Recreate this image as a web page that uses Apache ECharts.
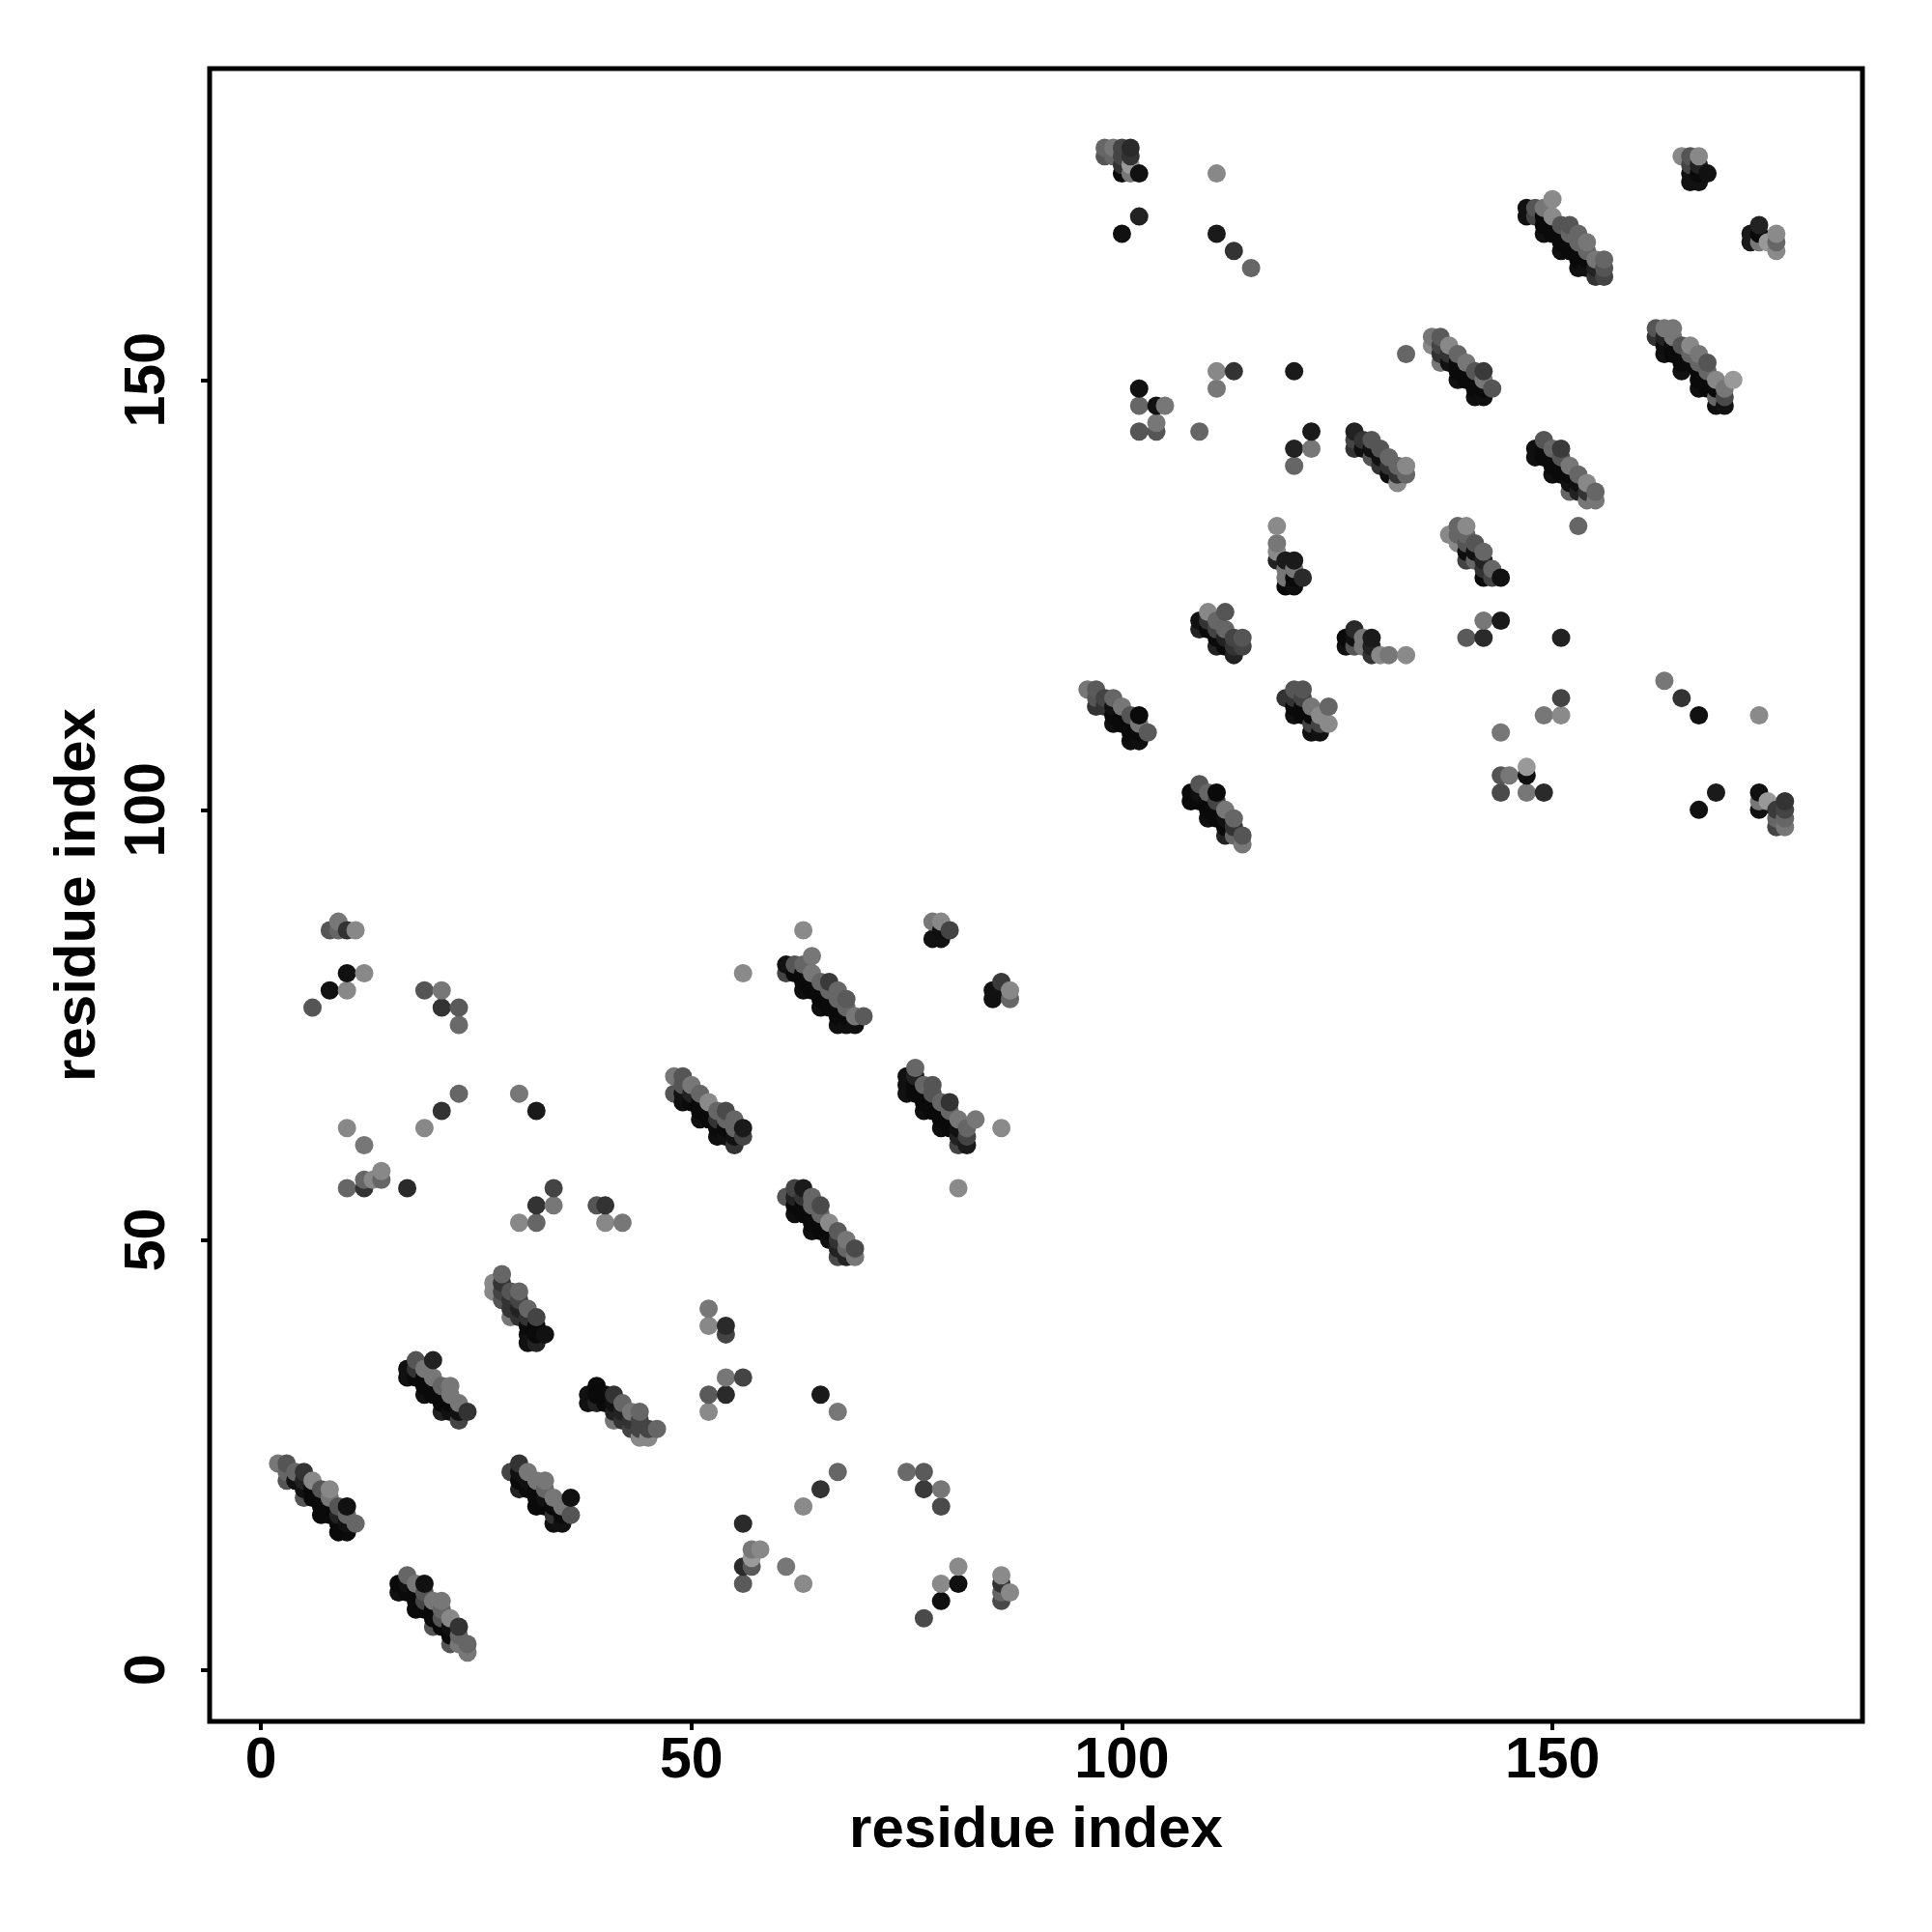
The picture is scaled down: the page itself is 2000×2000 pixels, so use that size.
<!DOCTYPE html>
<html><head><meta charset="utf-8">
<script src="https://cdn.jsdelivr.net/npm/echarts@6/dist/echarts.min.js"></script>
<style>html,body{margin:0;padding:0;background:#fff}#c{width:2000px;height:2000px}</style>
</head><body><div id="c"></div>
<script>
// each contact: [residue i, residue j, gray level]
const helixA=[[2,24,0x77],[3,22,0x55],[3,23,0x66],[3,24,0x55],[4,22,0x11],[4,23,0x66],[5,20,0x55],[5,21,0x11],[5,22,0x22],[5,23,0x33],[6,20,0x0a],[6,21,0x0a],[6,22,0x88],[7,18,0x0a],[7,19,0x0a],[7,20,0x0a],[7,21,0x55],[8,18,0x0a],[8,19,0x0a],[8,20,0x77],[8,21,0x88],[9,16,0x0a],[9,17,0x0a],[9,18,0x22],[9,19,0x55],[10,16,0x0a],[10,17,0x11],[10,18,0x66],[10,19,0x11],[11,17,0x66]];
const helixB=[[16,9,0x11],[16,10,0x0a],[17,9,0x0a],[17,10,0x11],[17,11,0x66],[18,7,0x0a],[18,8,0x0a],[18,9,0x0a],[18,10,0x77],[19,7,0x0a],[19,8,0x44],[19,9,0x55],[19,10,0x11],[20,5,0x55],[20,6,0x0a],[20,7,0x0a],[20,8,0x77],[21,5,0x0a],[21,6,0x55],[21,7,0x66],[21,8,0x77],[22,3,0x55],[22,4,0x0a],[22,5,0x11],[22,6,0x88],[23,3,0x77],[23,4,0x66],[23,5,0x33],[24,2,0x77],[24,3,0x66]];
const helixC=[[17,34,0x11],[17,35,0x11],[18,34,0x0a],[18,35,0x33],[18,36,0x55],[19,32,0x11],[19,33,0x0a],[19,34,0x0a],[19,35,0x77],[20,32,0x0a],[20,33,0x0a],[20,34,0x77],[20,36,0x22],[21,30,0x22],[21,31,0x0a],[21,32,0x0a],[21,33,0x66],[22,30,0x11],[22,31,0x0a],[22,32,0x77],[22,33,0x77],[23,29,0x44],[23,30,0x11],[23,31,0x77],[24,30,0x33]];
const helixD=[[29,23,0x44],[30,21,0x22],[30,22,0x0a],[30,23,0x11],[30,24,0x33],[31,21,0x0a],[31,22,0x11],[31,23,0x77],[32,19,0x0a],[32,20,0x0a],[32,21,0x0a],[32,22,0x77],[33,19,0x0a],[33,20,0x11],[33,21,0x66],[33,22,0x77],[34,17,0x11],[34,18,0x33],[34,19,0x0a],[34,20,0x77],[35,17,0x11],[35,18,0x0a],[35,19,0x77],[36,18,0x55],[36,20,0x11]];
const helixE=[[38,31,0x11],[38,32,0x11],[39,31,0x22],[39,32,0x0a],[39,33,0x0a],[40,31,0x0a],[40,32,0x0a],[41,29,0x77],[41,30,0x22],[41,31,0x11],[41,32,0x33],[42,29,0x33],[42,30,0x22],[42,31,0x66],[43,28,0x44],[43,29,0x33],[43,30,0x77],[44,27,0x88],[44,28,0x44],[44,29,0x44],[44,30,0x66],[45,27,0x88],[45,28,0x44],[46,28,0x66]];
const helixF=[[27,44,0x88],[27,45,0x88],[28,43,0x55],[28,44,0x44],[28,45,0x33],[28,46,0x66],[29,41,0x77],[29,42,0x33],[29,43,0x33],[29,44,0x55],[30,41,0x33],[30,42,0x22],[30,43,0x44],[30,44,0x66],[31,38,0x11],[31,39,0x11],[31,40,0x0a],[31,41,0x33],[31,42,0x66],[32,38,0x22],[32,39,0x0a],[32,40,0x0a],[32,41,0x44],[33,39,0x11]];
const helixG=[[48,67,0x55],[48,69,0x77],[49,66,0x0f],[49,67,0x11],[49,68,0x55],[49,69,0x55],[50,66,0x0a],[50,67,0x22],[50,68,0x77],[51,64,0x11],[51,65,0x0a],[51,66,0x0a],[51,67,0x66],[52,64,0x0a],[52,65,0x0a],[52,66,0x8a],[53,62,0x0f],[53,63,0x0a],[53,64,0x33],[53,65,0x66],[54,62,0x0f],[54,63,0x0a],[54,64,0x66],[54,65,0x4a],[55,61,0x33],[55,62,0x11],[55,63,0x66],[55,64,0x66],[56,62,0x44],[56,63,0x1a]];
const helixH=[[61,55,0x55],[62,53,0x0f],[62,54,0x0a],[62,55,0x22],[62,56,0x44],[63,53,0x0a],[63,54,0x0a],[63,55,0x33],[63,56,0x1a],[64,51,0x0f],[64,52,0x0a],[64,53,0x0a],[64,54,0x66],[64,55,0x66],[65,51,0x0a],[65,52,0x0a],[65,53,0x66],[65,54,0x4a],[66,50,0x0f],[66,51,0x0a],[66,52,0x8a],[67,48,0x4a],[67,49,0x22],[67,50,0x33],[67,51,0x5a],[68,48,0x22],[68,49,0x66],[68,50,0x77],[69,48,0x77],[69,49,0x4a]];
const helixI=[[75,67,0x11],[75,68,0x11],[75,69,0x11],[76,67,0x0a],[76,68,0x0a],[76,69,0x22],[76,70,0x66],[77,65,0x0f],[77,66,0x0a],[77,67,0x0a],[77,68,0x66],[78,65,0x0a],[78,66,0x0a],[78,67,0x55],[78,68,0x55],[79,63,0x0f],[79,64,0x0a],[79,65,0x0a],[79,66,0x66],[80,63,0x0a],[80,64,0x0a],[80,65,0x66],[80,66,0x33],[81,61,0x44],[81,62,0x22],[81,63,0x11],[81,64,0x77],[82,61,0x1a],[82,62,0x44],[82,63,0x66],[83,64,0x77],[86,63,0x8a],[81,56,0x8a]];
const helixJ=[[61,81,0x44],[61,82,0x11],[62,81,0x0a],[62,82,0x55],[63,79,0x0f],[63,80,0x0a],[63,81,0x0a],[63,82,0x66],[63,86,0x8a],[64,79,0x0a],[64,80,0x0a],[64,81,0x77],[64,83,0x77],[65,77,0x0f],[65,78,0x0a],[65,79,0x0a],[65,80,0x66],[66,77,0x0a],[66,78,0x0a],[66,79,0x66],[66,80,0x3a],[67,75,0x0f],[67,76,0x0a],[67,77,0x0a],[67,78,0x66],[67,79,0x66],[68,75,0x0f],[68,76,0x0a],[68,77,0x66],[68,78,0x5a],[69,75,0x0f],[69,76,0x77],[70,76,0x5a]];
const pairsLow=[[17,56,0x2a],[34,56,0x44],[32,54,0x33],[34,54,0x77],[30,52,0x88],[32,52,0x66],[39,54,0x55],[40,54,0x33],[40,52,0x88],[42,52,0x77],[8,86,0x55],[9,87,0x77],[9,86,0x66],[10,86,0x33],[11,86,0x88],[10,81,0x11],[12,81,0x88],[8,79,0x11],[10,79,0x88],[6,77,0x55],[19,79,0x55],[21,79,0x77],[21,77,0x33],[23,77,0x5a],[23,75,0x6a],[23,67,0x66],[21,65,0x33],[19,63,0x88],[30,67,0x77],[32,65,0x1a],[10,63,0x88],[12,61,0x77],[10,56,0x66],[12,56,0x33],[12,57,0x66],[13,57,0x88],[14,57,0x66],[14,58,0x88],[56,81,0x8a],[78,87,0x77],[79,87,0x88],[80,86,0x44],[78,85,0x11],[79,85,0x11],[79,86,0x0f],[85,78,0x11],[85,79,0x11],[86,80,0x3a],[87,79,0x88],[87,78,0x66],[86,79,0x11]];
const pairsMid=[[52,42,0x77],[52,40,0x88],[54,40,0x2a],[54,39,0x44],[54,34,0x77],[56,34,0x44],[52,32,0x5a],[54,32,0x2a],[52,30,0x8a],[65,32,0x1a],[67,30,0x77],[67,23,0x66],[65,21,0x33],[63,19,0x8a],[75,23,0x6a],[77,23,0x5a],[77,21,0x3a],[79,21,0x77],[79,19,0x4a],[56,17,0x2a],[57,14,0x77],[58,14,0x88],[57,13,0x99],[56,12,0x2a],[57,12,0x5a],[56,10,0x5a],[61,12,0x77],[63,10,0x8a],[81,12,0x8a],[79,10,0x8a],[81,10,0x0f],[79,8,0x0f],[77,6,0x4a],[86,11,0x8a],[86,10,0x33],[86,9,0x66],[87,9,0x88],[86,8,0x4a]];
const helixL=[[96,114,0x77],[97,112,0x33],[97,113,0x55],[97,114,0x5a],[98,112,0x33],[98,113,0x44],[99,110,0x0f],[99,111,0x0a],[99,112,0x11],[99,113,0x66],[100,110,0x0a],[100,111,0x0a],[100,112,0x77],[101,108,0x0f],[101,109,0x0a],[101,110,0x0a],[101,111,0x55],[102,108,0x0f],[102,109,0x0a],[102,110,0x77],[102,111,0x0a],[103,109,0x5a]];
const helixM=[[108,101,0x0a],[108,102,0x0a],[109,101,0x0a],[109,102,0x11],[109,103,0x55],[110,99,0x0f],[110,100,0x0a],[110,101,0x0a],[110,102,0x66],[111,99,0x0a],[111,100,0x0a],[111,101,0x44],[111,102,0x0a],[112,97,0x22],[112,98,0x0a],[112,99,0x11],[112,100,0x77],[113,97,0x66],[113,98,0x33],[113,99,0x66],[114,96,0x77],[114,97,0x55]];
const helixN=[[119,113,0x33],[120,111,0x11],[120,112,0x0a],[120,113,0x33],[120,114,0x55],[121,111,0x0a],[121,112,0x0a],[121,113,0x44],[121,114,0x55],[122,109,0x0f],[122,110,0x44],[122,111,0x0a],[122,112,0x77],[123,109,0x11],[123,110,0x44],[123,111,0x8a],[124,110,0x8a],[124,112,0x66]];
const helixO=[[118,129,0x22],[118,130,0x8a],[118,131,0x77],[118,133,0x8a],[119,126,0x0a],[119,127,0x77],[119,128,0x77],[119,129,0x1a],[120,126,0x0f],[120,127,0x0a],[120,128,0x77],[120,129,0x1a],[121,127,0x2a]];
const helixP=[[126,119,0x11],[126,120,0x0a],[127,119,0x55],[127,120,0x11],[127,121,0x2a],[128,119,0x77],[128,120,0x77],[129,118,0x33],[129,119,0x22],[129,120,0x1a],[130,118,0x88],[131,118,0x77],[133,118,0x8a]];
const helixQ=[[138,132,0x88],[139,131,0x8a],[139,132,0x66],[139,133,0x66],[140,129,0x44],[140,130,0x0f],[140,131,0x55],[140,132,0x66],[140,133,0x8a],[141,129,0x66],[141,130,0x11],[141,131,0x55],[142,127,0x0a],[142,128,0x33],[142,129,0x22],[142,130,0x66],[143,127,0x44],[143,128,0x66],[144,127,0x11]];
const helixR=[[136,154,0x88],[136,155,0x77],[137,152,0x77],[137,153,0x33],[137,154,0x44],[137,155,0x5a],[138,152,0x11],[138,153,0x33],[138,154,0x88],[139,150,0x11],[139,151,0x0a],[139,152,0x0a],[139,153,0x66],[140,150,0x0a],[140,151,0x0a],[140,152,0x77],[141,148,0x0f],[141,149,0x0a],[141,150,0x0a],[141,151,0x55],[142,148,0x0f],[142,149,0x0a],[142,150,0x77],[142,151,0x3a],[143,149,0x55]];
const helixS=[[162,155,0x33],[162,156,0x55],[163,153,0x11],[163,154,0x0f],[163,155,0x22],[163,156,0x77],[164,153,0x0a],[164,154,0x0a],[164,155,0x77],[164,156,0x77],[165,151,0x11],[165,152,0x0a],[165,153,0x0a],[165,154,0x55],[166,152,0x0a],[166,153,0x66],[166,154,0x88],[167,149,0x0f],[167,150,0x0a],[167,151,0x0a],[167,152,0x66],[167,153,0x77],[168,149,0x0a],[168,150,0x0a],[168,151,0x66],[168,152,0x55],[169,147,0x0f],[169,148,0x66],[169,149,0x0a],[169,150,0x88],[170,147,0x11],[170,148,0x4a],[170,149,0x77],[171,150,0x99]];
const helixT=[[148,141,0x0f],[148,142,0x0f],[149,141,0x0a],[149,142,0x0a],[149,143,0x55],[150,139,0x0f],[150,140,0x0a],[150,141,0x0a],[150,142,0x66],[151,139,0x0a],[151,140,0x0a],[151,141,0x55],[151,142,0x3a],[152,137,0x66],[152,138,0x11],[152,139,0x0a],[152,140,0x77],[153,137,0x22],[153,138,0x11],[153,139,0x66],[154,136,0x77],[154,137,0x33],[154,138,0x88],[155,136,0x77],[155,137,0x66]];
const helixU=[[127,142,0x33],[127,143,0x44],[127,144,0x22],[128,142,0x0f],[128,143,0x33],[129,141,0x55],[129,142,0x11],[129,143,0x55],[130,140,0x33],[130,141,0x11],[130,142,0x55],[131,139,0x0f],[131,140,0x33],[131,141,0x66],[132,138,0x88],[132,139,0x33],[132,140,0x66],[133,139,0x66],[133,140,0x88]];
const helixV=[[147,169,0x11],[147,170,0x11],[148,169,0x44],[148,170,0x55],[149,167,0x11],[149,168,0x0a],[149,169,0x0a],[149,170,0x77],[150,167,0x0a],[150,168,0x0a],[150,169,0x8a],[150,171,0x8a],[151,165,0x0f],[151,166,0x0a],[151,167,0x0a],[151,168,0x55],[152,165,0x0a],[152,166,0x0a],[152,167,0x66],[152,168,0x55],[153,163,0x11],[153,164,0x0a],[153,165,0x0a],[153,166,0x66],[153,167,0x66],[154,163,0x11],[154,164,0x0a],[154,165,0x66],[154,166,0x77],[155,162,0x33],[155,163,0x22],[155,164,0x77],[156,162,0x44],[156,163,0x55],[156,164,0x66]];
const helixW=[[173,166,0x1a],[173,167,0x1a],[174,166,0x77],[174,167,0x0a],[174,168,0x22],[175,166,0x99],[176,165,0x8a],[176,166,0x66],[176,167,0x8a]];
const helixX=[[165,176,0x88],[166,173,0x11],[166,174,0x11],[166,175,0x44],[166,176,0x55],[167,173,0x11],[167,174,0x0a],[167,175,0x22],[167,176,0x88],[168,174,0x11]];
const helixY=[[98,176,0x55],[98,177,0x66],[99,176,0x66],[99,177,0x77],[100,174,0x0a],[100,175,0x33],[100,176,0x44],[100,177,0x44],[101,174,0x77],[101,175,0x99],[101,176,0x33],[101,177,0x2a],[102,174,0x11]];
const helixZ=[[109,121,0x22],[109,122,0x11],[110,121,0x0a],[110,122,0x33],[110,123,0x88],[111,119,0x22],[111,120,0x0a],[111,121,0x44],[111,122,0x66],[112,119,0x0a],[112,120,0x22],[112,121,0x66],[112,123,0x55],[113,118,0x22],[113,119,0x33],[113,120,0x44],[114,119,0x44],[114,120,0x55]];
const pairsHigh=[[102,169,0x22],[100,167,0x11],[111,174,0x88],[111,167,0x1a],[113,165,0x33],[115,163,0x66],[133,153,0x66],[102,149,0x11],[102,147,0x66],[102,144,0x55],[104,147,0x11],[105,147,0x77],[104,145,0x77],[104,144,0x55],[109,144,0x66],[111,151,0x88],[111,149,0x77],[113,151,0x33],[120,151,0x1a],[120,142,0x22],[120,140,0x66],[122,144,0x1a],[122,142,0x77],[153,133,0x66],[142,122,0x77],[144,122,0x1a],[140,120,0x5a],[142,120,0x2a],[151,120,0x22],[151,113,0x44],[149,111,0x77],[151,111,0x8a],[144,109,0x77],[144,104,0x55],[145,104,0x77],[147,105,0x99],[147,104,0x0f],[144,102,0x4a],[147,102,0x77],[149,102,0x2a],[163,115,0x77],[165,113,0x33],[167,111,0x11],[174,111,0x8a],[169,102,0x1a],[167,100,0x11],[174,102,0x11],[174,100,0x11],[174,101,0x77],[175,101,0x99],[176,100,0x3a],[177,101,0x33],[177,100,0x44],[177,99,0x66],[177,98,0x77],[176,98,0x44],[176,99,0x66]];
const tickValues=[0,50,100,150];
const axisTitle='residue index';

const groups=[helixA,helixB,helixC,helixD,helixE,helixF,helixG,helixH,helixI,helixJ,pairsLow,pairsMid,helixL,helixM,helixN,helixO,helixP,helixQ,helixR,helixS,helixT,helixU,helixV,helixW,helixX,helixY,helixZ,pairsHigh];
const contacts=groups.flat().sort((a,b)=>a[0]-b[0]||a[1]-b[1]);
const font='"Liberation Sans"';
const axisBase={type:'value',splitLine:{show:false},
  axisLine:{show:false,onZero:false},
  axisTick:{show:true,length:9,lineStyle:{color:'#000',width:4},customValues:tickValues},
  nameLocation:'middle',name:axisTitle,
  nameTextStyle:{fontFamily:font,fontWeight:'bold',fontSize:60,color:'#000'}};
const chart=echarts.init(document.getElementById('c'),null,{renderer:'canvas'});
chart.setOption({animation:false,backgroundColor:'#fff',
  grid:{left:217,top:71,width:1711,height:1711,show:true,borderColor:'#000',borderWidth:5,backgroundColor:'#fff'},
  xAxis:Object.assign({},axisBase,{min:-5.95,max:186,nameGap:83,
    axisLabel:{customValues:tickValues,margin:12,fontFamily:font,fontWeight:'bold',fontSize:59,color:'#000'}}),
  yAxis:Object.assign({},axisBase,{min:-6,max:186.2,nameGap:106,
    axisLabel:{customValues:tickValues,rotate:90,margin:34,fontFamily:font,fontWeight:'bold',fontSize:59,color:'#000'}}),
  series:[{type:'scatter',data:contacts,symbol:'circle',symbolSize:19,large:false,progressive:0,
    encode:{x:0,y:1},clip:false,
    itemStyle:{opacity:1,color:p=>{const g=p.data[2];return 'rgb('+g+','+g+','+g+')';}}}]
});
</script></body></html>
